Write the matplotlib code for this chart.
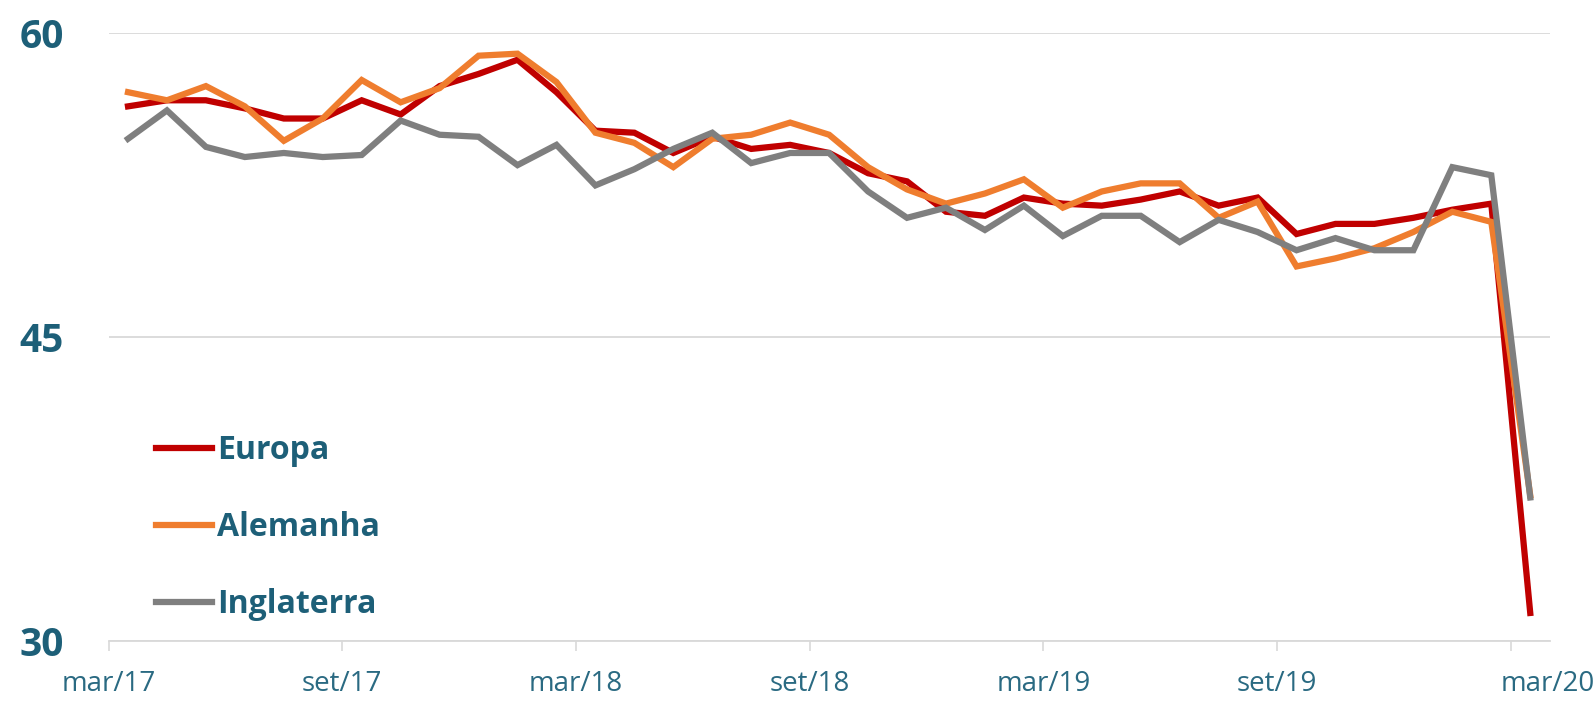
import numpy as np
import matplotlib
matplotlib.use('Agg')
import matplotlib.pyplot as plt
import matplotlib.transforms as mtransforms

# monthly PMI, mar/17 .. mar/20
months = ['mar/17', 'set/17', 'mar/18', 'set/18', 'mar/19', 'set/19', 'mar/20']
europa = [56.4, 56.7, 56.7, 56.3, 55.8, 55.8, 56.7, 56.0, 57.4, 58.0, 58.7, 57.1,
          55.2, 55.1, 54.1, 54.9, 54.3, 54.5, 54.1, 53.1, 52.7, 51.2, 51.0, 51.9,
          51.6, 51.5, 51.8, 52.2, 51.5, 51.9, 50.1, 50.6, 50.6, 50.9, 51.3, 51.6, 31.4]
alemanha = [57.1, 56.7, 57.4, 56.4, 54.7, 55.8, 57.7, 56.6, 57.3, 58.9, 59.0, 57.6,
            55.1, 54.6, 53.4, 54.8, 55.0, 55.6, 55.0, 53.4, 52.3, 51.6, 52.1, 52.8,
            51.4, 52.2, 52.6, 52.6, 50.9, 51.7, 48.5, 48.9, 49.4, 50.2, 51.2, 50.7, 37.2]
inglaterra = [54.8, 56.2, 54.4, 53.9, 54.1, 53.9, 54.0, 55.7, 55.0, 54.9, 53.5, 54.5,
              52.5, 53.3, 54.3, 55.1, 53.6, 54.1, 54.1, 52.2, 50.9, 51.4, 50.3, 51.5,
              50.0, 51.0, 51.0, 49.7, 50.8, 50.2, 49.3, 49.9, 49.3, 49.3, 53.4, 53.0, 37.1]

teal = '#1d5f78'
plt.rcParams['font.family'] = ['Open Sans', 'DejaVu Sans']

fig = plt.figure(figsize=(15.96, 7.11), dpi=100)
ax = fig.add_axes([0.068, 0.098, 0.903, 0.855])

x = np.arange(len(europa))
ax.plot(x, europa, color='#c00000', lw=4.5, label='Europa', solid_joinstyle='miter')
ax.plot(x, alemanha, color='#ef7d2e', lw=4.5, label='Alemanha', solid_joinstyle='miter')
ax.plot(x, inglaterra, color='#7f7f7f', lw=4.5, label='Inglaterra', solid_joinstyle='miter')

ax.set_xlim(-0.5, 36.5)
ax.set_ylim(30, 60)
ax.set_yticks([30, 45, 60])
ax.set_yticklabels(['30', '45', '60'], fontsize=28, fontweight='bold', color=teal)
ax.tick_params(axis='y', length=0, pad=32)
ax.grid(axis='y', color='#d9d9d9', lw=1.3)
ax.set_axisbelow(True)

ticks = np.arange(len(months)) * 6 - 0.5
ax.set_xticks(ticks)
ax.set_xticklabels(months, fontsize=20, color='#2a6a82')
ax.tick_params(axis='x', length=7, width=1.2, color='#d9d9d9', pad=14)
# last label sits right of its tick, as in the original
last = ax.get_xticklabels()[-1]
last.set_transform(last.get_transform() +
                   mtransforms.ScaledTranslation(0.37, 0, fig.dpi_scale_trans))

for s in ['left', 'right', 'top']:
    ax.spines[s].set_visible(False)
ax.spines['bottom'].set_color('#d9d9d9')
ax.spines['bottom'].set_linewidth(1.3)

leg = ax.legend(loc='lower left', bbox_to_anchor=(0.013, -0.014), frameon=False,
                fontsize=23, handlelength=1.75, handletextpad=0.15, labelspacing=1.38)
for t in leg.get_texts():
    t.set_color(teal)
    t.set_fontweight('bold')

fig.savefig('out.png', dpi=100, facecolor='white')
